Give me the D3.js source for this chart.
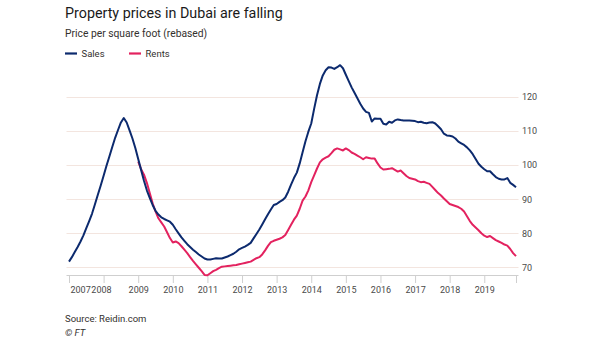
<!DOCTYPE html>
<html>
<head>
<meta charset="utf-8">
<script src="https://cdn.jsdelivr.net/npm/d3@7"></script>
<style>
  html, body { margin: 0; padding: 0; background: #fff; }
  svg { display: block; font-family: Roboto, "Noto Sans", sans-serif; }
</style>
</head>
<body>
<svg id="chart" width="605" height="341"></svg>
<script>
// Monthly index, Jan 2007 – Dec 2019 (sales) and Jan 2009 – Dec 2019 (rents)
const salesStart = 2007;
const sales = [
  71.7, 73.0, 74.5, 76.0, 77.6, 79.4, 81.5, 83.6, 85.8, 88.5, 91.3, 94.0,
  96.9, 99.8, 102.5, 105.3, 108.0, 110.3, 112.5, 113.8, 112.5, 110.2, 107.8, 105.0,
  101.8, 98.6, 95.4, 92.6, 90.4, 88.3, 86.6, 85.5, 84.7, 84.2, 83.8, 83.4,
  82.5, 81.2, 80.0, 78.8, 77.8, 76.8, 76.0, 75.2, 74.5, 73.8, 73.2, 72.6,
  72.3, 72.3, 72.5, 72.7, 72.6, 72.6, 72.9, 73.2, 73.6, 74.0, 74.6, 75.3,
  75.7, 76.1, 76.6, 77.2, 78.5, 79.8, 81.1, 82.6, 84.1, 85.6, 87.0, 88.3,
  88.6, 89.2, 89.7, 90.5, 92.2, 94.3, 96.2, 97.8, 100.5, 103.8, 107.0, 109.8,
  112.2, 116.5, 120.5, 123.8, 126.3, 127.8, 128.7, 128.6, 128.2, 128.7, 129.3, 128.4,
  126.5, 124.6, 122.8, 121.2, 119.6, 118.0, 116.6, 115.6, 115.3, 112.8, 113.7, 113.6,
  113.6, 112.1, 111.9, 112.7, 112.4, 113.1, 113.4, 113.2, 113.1, 113.1, 113.1, 113.0,
  112.9, 112.6, 112.7, 112.4, 112.3, 112.5, 112.6, 112.2, 111.4, 110.5, 109.2, 108.7,
  108.6, 108.4, 107.8, 106.9, 106.4, 105.9, 105.2, 104.3, 103.2, 101.8, 100.4, 99.5,
  98.8, 98.2, 98.2, 97.3, 96.5, 96.0, 95.8, 95.8, 96.2, 94.8, 94.2, 93.5
];
const rentsStart = 2009;
const rents = [
  101.0, 98.8, 97.2, 94.8, 91.8, 88.8, 86.4, 84.4, 83.2, 82.0, 80.3, 78.6,
  77.3, 77.6, 77.1, 76.2, 75.2, 74.2, 73.0, 71.9, 70.9, 69.9, 68.9, 67.8,
  67.7, 68.3, 68.9, 69.3, 69.8, 70.2, 70.3, 70.4, 70.5, 70.6, 70.7, 70.9,
  71.1, 71.3, 71.5, 71.7, 72.2, 72.7, 73.0, 73.8, 75.0, 76.3, 77.4, 77.8,
  78.1, 78.4, 78.8, 79.5, 81.0, 82.5, 84.0, 85.2, 87.2, 89.6, 90.8, 92.6,
  95.0, 97.0, 99.0, 100.8, 101.7, 102.2, 102.6, 103.5, 104.5, 104.9, 104.6, 104.3,
  104.9, 104.4, 103.7, 103.3, 102.8, 102.3, 101.7, 102.3, 102.1, 101.9, 101.9, 100.5,
  99.3, 98.7, 98.8, 98.9, 99.1, 98.6, 98.1, 98.4, 97.6, 96.8, 96.2, 96.0,
  95.8, 95.3, 95.0, 95.1, 94.8, 94.5, 93.6, 92.7, 91.8, 91.1, 90.2, 89.4,
  88.6, 88.3, 88.0, 87.7, 87.2, 86.4, 85.0, 83.6, 82.5, 81.7, 80.9, 80.0,
  79.3, 78.9, 79.2, 78.6, 78.0, 77.6, 77.2, 76.7, 76.4, 75.4, 74.2, 73.3
];
const yearTicks = [2007, 2008, 2009, 2010, 2011, 2012, 2013, 2014, 2015, 2016, 2017, 2018, 2019];
const valueTicks = [70, 80, 90, 100, 110, 120];
const seriesNames = ["Sales", "Rents"];

const colors = { Sales: "#0c2a6e", Rents: "#e3225f" };
const svg = d3.select("#chart");

const toPoints = (start, vals) => vals.map((v, i) => ({ t: start + i / 12, v }));
const salesPts = toPoints(salesStart, sales);
const rentsPts = toPoints(rentsStart, rents);
const tEnd = salesPts[salesPts.length - 1].t;

const x = d3.scaleLinear().domain([2007, tEnd]).range([69, 516]);
const y = d3.scaleLinear().domain([70, 120]).range([267.4, 96.9]);
const gridX0 = 66.5, gridX1 = 518.5;
const axisY = 275.5;

// Horizontal gridlines
svg.append("g")
  .selectAll("line")
  .data(valueTicks)
  .join("line")
  .attr("x1", gridX0).attr("x2", gridX1)
  .attr("y1", d => Math.round(y(d)) + 0.5).attr("y2", d => Math.round(y(d)) + 0.5)
  .attr("stroke", "#f3e5df").attr("stroke-width", 1);

// Right-hand value axis
const yAxis = d3.axisRight(y).tickValues(valueTicks).tickSize(0).tickPadding(0);
svg.append("g")
  .attr("transform", `translate(${gridX1 + 3.5},0)`)
  .call(yAxis)
  .call(g => g.select(".domain").remove())
  .call(g => g.selectAll("text")
    .attr("fill", "#4a4a4a").attr("font-size", 9).attr("font-family", "Roboto, sans-serif"));

// Baseline and year ticks
svg.append("line")
  .attr("x1", gridX0).attr("x2", gridX1)
  .attr("y1", axisY).attr("y2", axisY)
  .attr("stroke", "#cfcfcf").attr("stroke-width", 1);

const xAxis = d3.axisBottom(x)
  .tickValues(yearTicks.concat([tEnd]))
  .tickSize(7.5)
  .tickPadding(4)
  .tickFormat(d => yearTicks.includes(d) ? String(d) : "");
const xg = svg.append("g")
  .attr("transform", `translate(0,${axisY})`)
  .call(xAxis)
  .call(g => g.select(".domain").remove())
  .call(g => g.selectAll(".tick line").attr("stroke", "#cfcfcf"))
  .call(g => g.selectAll("text")
    .attr("fill", "#4a4a4a").attr("font-size", 9).attr("font-family", "Roboto, sans-serif"));

// First label sits right of its tick; the second runs on straight after it
const tickTexts = xg.selectAll(".tick text").nodes();
d3.select(tickTexts[0]).attr("text-anchor", "start").attr("dx", 1);
const firstEnd = x(yearTicks[0]) + 1 + tickTexts[0].getComputedTextLength();
d3.select(tickTexts[1]).attr("text-anchor", "start")
  .attr("dx", firstEnd + 0.6 - x(yearTicks[1]));

// Lines: rents underneath, sales on top
const line = d3.line().x(d => x(d.t)).y(d => y(d.v)).curve(d3.curveLinear);
svg.append("path").datum(rentsPts)
  .attr("d", line).attr("fill", "none")
  .attr("stroke", colors.Rents).attr("stroke-width", 2).attr("stroke-linejoin", "round");
svg.append("path").datum(salesPts)
  .attr("d", line).attr("fill", "none")
  .attr("stroke", colors.Sales).attr("stroke-width", 2).attr("stroke-linejoin", "round");

// Title, subtitle
svg.append("text").attr("x", 65).attr("y", 17.5)
  .attr("font-size", 14.3).attr("fill", "#1a1a1a")
  .text("Property prices in Dubai are falling");
svg.append("text").attr("x", 65).attr("y", 36.5)
  .attr("font-size", 10.3).attr("fill", "#33302e")
  .text("Price per square foot (rebased)");

// Legend
const legend = svg.append("g").selectAll("g")
  .data(seriesNames)
  .join("g")
  .attr("transform", (d, i) => `translate(${i === 0 ? 65 : 129},53.5)`);
legend.append("line")
  .attr("x1", 0).attr("x2", 12).attr("y1", 0).attr("y2", 0)
  .attr("stroke", d => colors[d]).attr("stroke-width", 2.2);
legend.append("text")
  .attr("x", 16.5).attr("y", 3.3)
  .attr("font-size", 9.5).attr("fill", "#33302e")
  .text(d => d);

// Footer
svg.append("text").attr("x", 65).attr("y", 322)
  .attr("font-size", 9.5).attr("fill", "#33302e")
  .text("Source: Reidin.com");
svg.append("text").attr("x", 65).attr("y", 335.5)
  .attr("font-size", 9.5).attr("font-style", "italic").attr("fill", "#33302e")
  .text("© FT");
</script>
</body>
</html>
